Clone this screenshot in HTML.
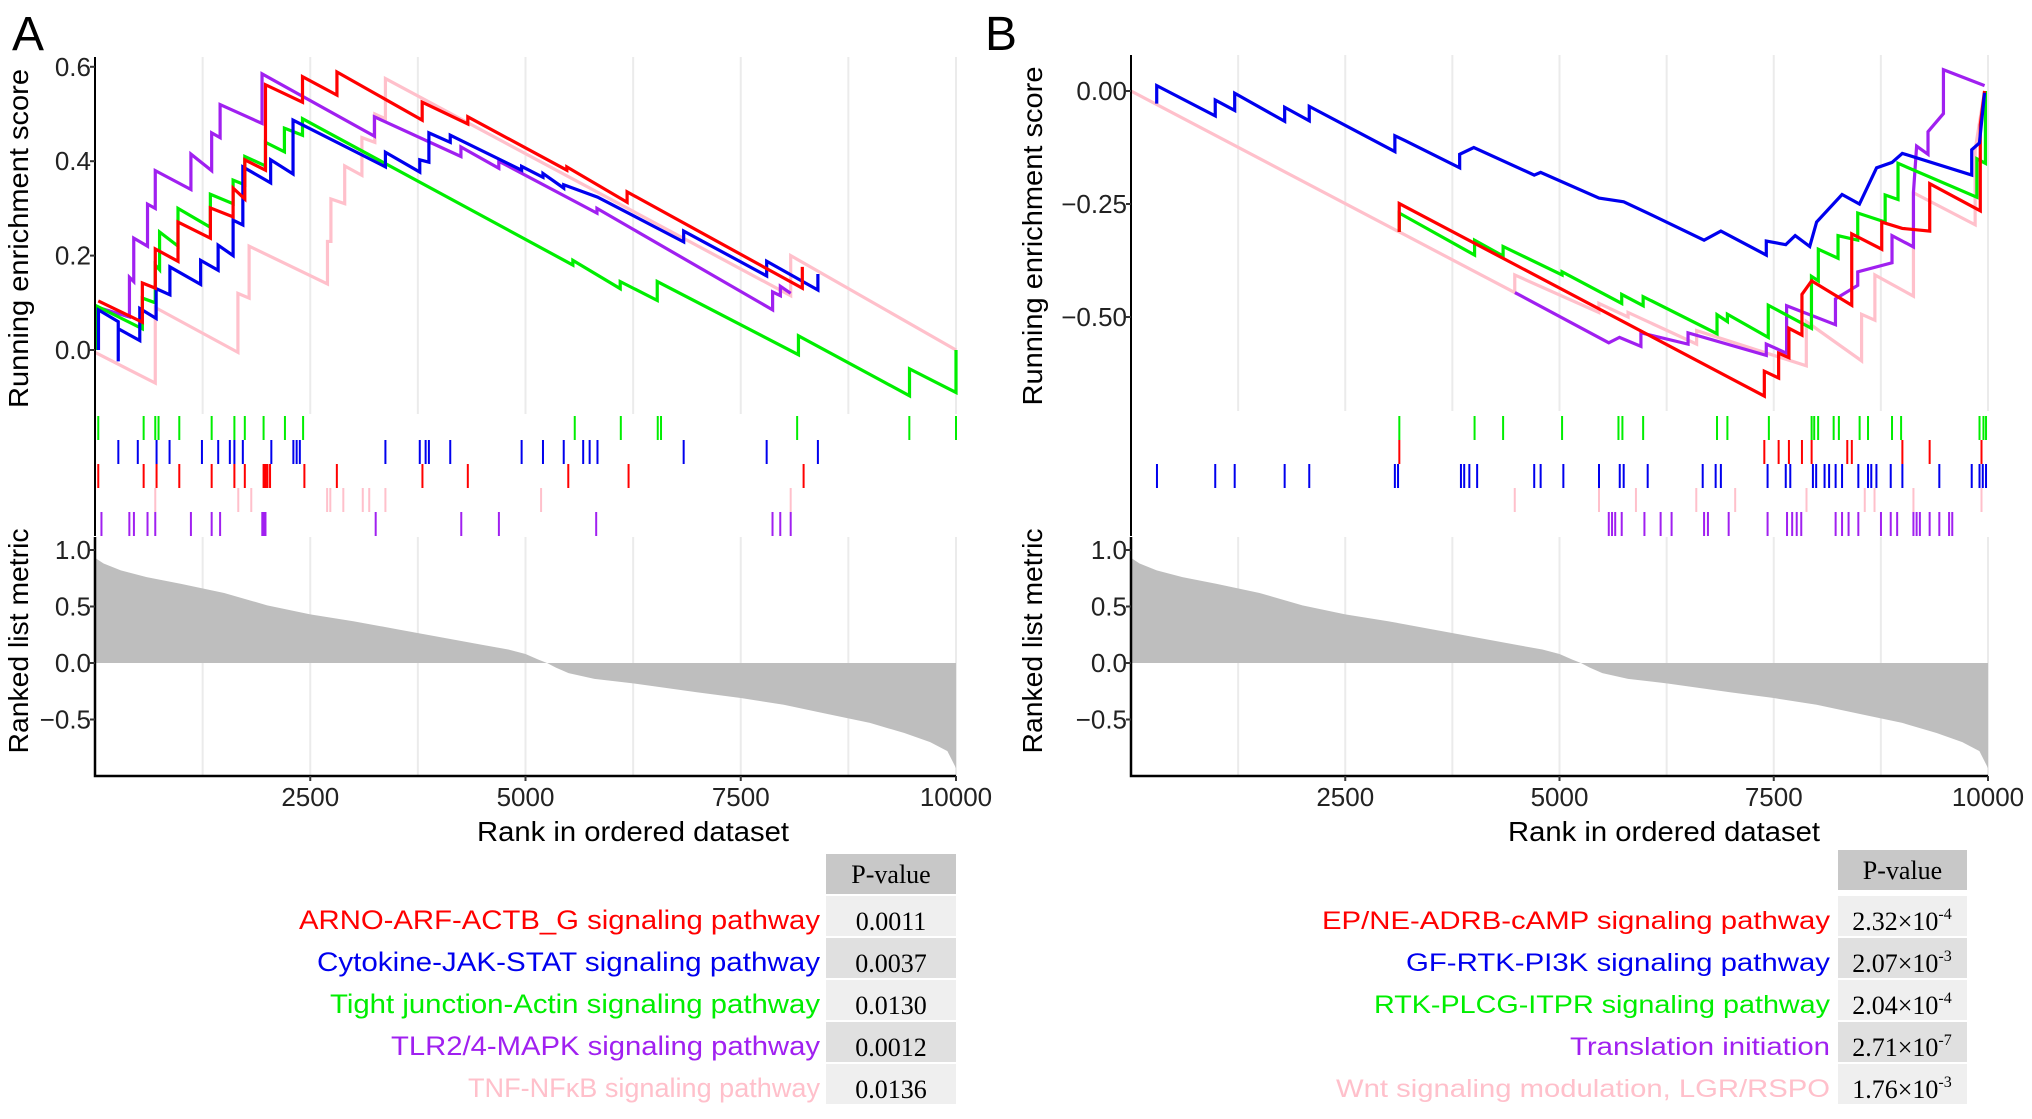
<!DOCTYPE html>
<html><head><meta charset="utf-8"><style>
html,body{margin:0;padding:0;background:#fff;}
svg{display:block;}
.tk{font-family:"Liberation Sans Narrow","Liberation Sans",sans-serif;font-size:26px;fill:#222;}
.ttl{font-family:"Liberation Sans",sans-serif;font-size:28px;fill:#000;}
.lab{font-family:"Liberation Sans Narrow","Liberation Sans",sans-serif;font-size:27px;}
.labB{font-family:"Liberation Sans",sans-serif;font-size:25px;}
.pv{font-family:"Liberation Serif",serif;font-size:26px;fill:#000;}
</style></head><body>
<svg id="fig" xmlns="http://www.w3.org/2000/svg" width="2032" height="1119" viewBox="0 0 2032 1119"></svg>
<script>
// ---------- data ----------
const xTicks = [2500, 5000, 7500, 10000];
const xTickLabels = ["2500", "5000", "7500", "10000"];
const esTicksA = [0, 0.2, 0.4, 0.6];
const esTickLabelsA = ["0.0", "0.2", "0.4", "0.6"];
const esTicksB = [0, -0.25, -0.5];
const esTickLabelsB = ["0.00", "\u22120.25", "\u22120.50"];
const metricTicks = [1, 0.5, 0, -0.5];
const metricTickLabels = ["1.0", "0.5", "0.0", "\u22120.5"];
const metricRanks = [0,100,300,600,1000,1500,2000,2500,3000,3500,4000,4500,4800,5000,5150,5250,5350,5500,5800,6250,7000,7500,8000,8500,9000,9400,9700,9900,10000];
const metricValues = [0.93,0.88,0.82,0.76,0.70,0.62,0.51,0.43,0.37,0.30,0.23,0.16,0.12,0.08,0.03,0.0,-0.04,-0.09,-0.14,-0.18,-0.26,-0.31,-0.37,-0.45,-0.53,-0.62,-0.70,-0.78,-0.93];

const aRed = [[38,0.104],[550,0.059],[550,0.142],[700,0.131],[700,0.214],[964,0.188],[964,0.271],[1340,0.237],[1340,0.301],[1604,0.282],[1604,0.343],[1740,0.32],[1740,0.403],[1980,0.381],[1980,0.562],[2410,0.525],[2410,0.579],[2810,0.54],[2810,0.589],[3800,0.487],[3800,0.525],[4330,0.479],[4330,0.494],[5480,0.381],[5480,0.388],[6180,0.313],[6180,0.335],[8215,0.131],[8215,0.176]];
const aBlue = [[40,0.0],[40,0.085],[270,0.06],[270,-0.024],[270,0.045],[520,0.02],[520,0.088],[710,0.067],[710,0.13],[870,0.117],[870,0.176],[1227,0.139],[1227,0.19],[1430,0.169],[1430,0.222],[1604,0.2],[1604,0.275],[1717,0.265],[1717,0.388],[2040,0.354],[2040,0.403],[2300,0.373],[2300,0.487],[3373,0.388],[3373,0.419],[3772,0.377],[3772,0.403],[3878,0.398],[3878,0.46],[4126,0.44],[4126,0.455],[4955,0.381],[4955,0.389],[5203,0.366],[5203,0.374],[5444,0.343],[5444,0.35],[5836,0.324],[6837,0.229],[6837,0.252],[7801,0.157],[7801,0.188],[8396,0.127],[8396,0.161]];
const aGreen = [[20,0.0],[20,0.093],[550,0.045],[550,0.11],[700,0.10],[700,0.18],[750,0.17],[750,0.25],[964,0.22],[964,0.30],[1340,0.26],[1340,0.33],[1604,0.31],[1604,0.36],[1740,0.35],[1740,0.41],[1980,0.39],[1980,0.44],[2200,0.42],[2200,0.47],[2410,0.455],[2410,0.49],[5550,0.18],[5550,0.19],[6100,0.13],[6100,0.145],[6530,0.105],[6530,0.145],[8170,-0.01],[8170,0.03],[9460,-0.097],[9460,-0.04],[10000,-0.09],[10000,0.0]];
const aPurple = [[40,0.0],[40,0.09],[400,0.07],[400,0.154],[450,0.145],[450,0.237],[610,0.22],[610,0.309],[700,0.30],[700,0.38],[1114,0.34],[1114,0.415],[1355,0.38],[1355,0.46],[1453,0.45],[1453,0.52],[1940,0.48],[1940,0.585],[3245,0.453],[3245,0.494],[4250,0.41],[4250,0.43],[4690,0.385],[4690,0.40],[5830,0.29],[5830,0.30],[7870,0.085],[7870,0.123],[7960,0.115],[7960,0.135],[8080,0.12]];
const aPink = [[0,-0.005],[700,-0.07],[700,0.09],[1660,-0.005],[1660,0.12],[1790,0.11],[1790,0.22],[2700,0.14],[2700,0.23],[2740,0.23],[2740,0.32],[2900,0.31],[2900,0.39],[3100,0.37],[3100,0.45],[3250,0.44],[3250,0.50],[3373,0.49],[3373,0.575],[8080,0.115],[8080,0.2],[10000,0.0]];

const bBlue = [[300,-0.028],[300,0.012],[983,-0.055],[983,-0.02],[1210,-0.043],[1210,-0.005],[1793,-0.067],[1793,-0.036],[2080,-0.066],[2080,-0.034],[3079,-0.134],[3079,-0.099],[3200,-0.11],[3835,-0.17],[3835,-0.14],[4000,-0.125],[4705,-0.186],[4780,-0.18],[5461,-0.237],[5749,-0.245],[6029,-0.27],[6687,-0.33],[6883,-0.31],[7413,-0.363],[7413,-0.332],[7640,-0.34],[7750,-0.32],[7920,-0.344],[8000,-0.29],[8297,-0.229],[8500,-0.25],[8700,-0.17],[8880,-0.158],[9000,-0.138],[9810,-0.186],[9810,-0.13],[9900,-0.115],[9960,-0.004]];
const bRed = [[3130,-0.312],[3130,-0.249],[7390,-0.675],[7390,-0.62],[7557,-0.635],[7557,-0.58],[7677,-0.59],[7677,-0.525],[7829,-0.54],[7829,-0.45],[7942,-0.42],[8410,-0.474],[8410,-0.316],[8760,-0.35],[8760,-0.29],[9000,-0.304],[9320,-0.31],[9320,-0.205],[9910,-0.265],[9910,-0.075],[9960,0.0]];
const bGreen = [[3130,-0.312],[3130,-0.27],[4009,-0.363],[4009,-0.33],[4342,-0.365],[4342,-0.344],[5030,-0.407],[5030,-0.4],[5726,-0.47],[5726,-0.45],[5976,-0.475],[5976,-0.455],[6838,-0.537],[6838,-0.495],[6959,-0.51],[6959,-0.494],[7436,-0.545],[7436,-0.474],[7940,-0.525],[7940,-0.41],[8020,-0.42],[8020,-0.35],[8250,-0.37],[8250,-0.32],[8480,-0.33],[8480,-0.27],[8800,-0.29],[8800,-0.23],[8950,-0.24],[8950,-0.16],[9870,-0.235],[9870,-0.15],[9970,-0.16],[9970,0.0]];
const bPurple = [[4480,-0.446],[5575,-0.557],[5700,-0.545],[5950,-0.565],[5950,-0.535],[6500,-0.56],[6500,-0.535],[7413,-0.585],[7413,-0.56],[7650,-0.58],[7650,-0.475],[8220,-0.517],[8220,-0.46],[8480,-0.43],[8480,-0.4],[8880,-0.38],[8880,-0.32],[9130,-0.345],[9130,-0.225],[9167,-0.122],[9300,-0.14],[9300,-0.09],[9480,-0.05],[9480,0.047],[9960,0.012]];
const bPink = [[0,0.0],[4478,-0.446],[4478,-0.407],[5460,-0.49],[5460,-0.47],[5800,-0.5],[5800,-0.49],[6600,-0.56],[6600,-0.53],[7880,-0.608],[7880,-0.51],[8525,-0.597],[8525,-0.494],[8680,-0.507],[8680,-0.407],[9130,-0.454],[9130,-0.225],[9850,-0.296],[9850,-0.13],[9960,0.0]];

const aGreenHits = [38,565,700,738,979,1355,1619,1740,1958,2206,2417,5572,6107,6536,6574,8155,9458,10000];
const aBlueHits = [271,497,715,866,1242,1431,1566,1619,1717,2048,2304,2342,2379,3373,3772,3840,3878,4126,4955,5203,5444,5670,5745,5836,6837,7801,8396];
const aRedHits = [38,565,715,979,1355,1619,1740,1958,1980,2003,2033,2432,2809,3803,4330,5497,6197,8230];
const aPinkHits = [700,1664,1815,2696,2733,2884,3110,3185,3373,5181,8080];
const aPurpleHits = [75,399,452,610,700,1114,1355,1453,1943,1958,1980,3260,4254,4691,5821,7869,7959,8080];

const bGreenHits = [3131,4009,4342,5030,5688,5734,5976,6838,6959,7443,7942,7972,8018,8199,8260,8502,8600,8880,8986,9901,9947,9977];
const bRedHits = [3131,7390,7557,7677,7829,7942,8358,8411,9001,9319,9924];
const bBlueHits = [303,983,1210,1793,2080,3079,3116,3850,3888,3948,4039,4705,4780,5045,5461,5703,5749,6029,6671,6822,6883,7428,7640,7693,7957,7995,8093,8146,8222,8297,8487,8600,8638,8698,8865,9001,9432,9810,9901,9939,9977];
const bPinkHits = [4478,5461,5892,6596,7050,7882,8562,8676,9130,9924];
const bPurpleHits = [5575,5613,5650,5726,5991,6180,6308,6687,6732,6974,7428,7655,7715,7768,7821,8222,8297,8373,8487,8751,8865,8940,9130,9167,9205,9319,9432,9546,9583];

const aLabels = ["ARNO-ARF-ACTB_G signaling pathway","Cytokine-JAK-STAT signaling pathway","Tight junction-Actin signaling pathway","TLR2/4-MAPK signaling pathway","TNF-NF\u03BAB signaling pathway"];
const aPvals = ["0.0011","0.0037","0.0130","0.0012","0.0136"];
const bLabels = ["EP/NE-ADRB-cAMP signaling pathway","GF-RTK-PI3K signaling pathway","RTK-PLCG-ITPR signaling pathway","Translation initiation","Wnt signaling modulation, LGR/RSPO"];
const bPvalMant = ["2.32","2.07","2.04","2.71","1.76"];
const bPvalExp = ["-4","-3","-4","-7","-3"];

// ---------- drawing ----------
const NS = "http://www.w3.org/2000/svg";
const svg = document.getElementById("fig");
const COL = {red:"#ff0000", blue:"#0000ee", green:"#00ee00", purple:"#a020f0", pink:"#ffc0cb"};
function mk(tag, attrs, parent) {
  const e = document.createElementNS(NS, tag);
  for (const k in attrs) e.setAttribute(k, attrs[k]);
  (parent || svg).appendChild(e);
  return e;
}
function panel(P, esTicks, esLabels, series, hits, rugOrder, name) {
  const g = mk("g", {});
  
  
  const X = r => P.x0 + (P.x1 - P.x0) * r / 10000;
  const YE = v => P.es0 - v * P.esScale;
  const YM = v => P.m0 - v * P.mScale;
  for (let r = 1250; r <= 10000; r += 1250) {
    const gl = mk("line", {x1:X(r), x2:X(r), y1:P.esTop, y2:P.esBot, stroke:"#ebebeb", "stroke-width":2}, g);
    
    
    const gm = mk("line", {x1:X(r), x2:X(r), y1:P.mTop, y2:P.mBot, stroke:"#ebebeb", "stroke-width":2}, g);
    
    
  }
  let d = "M" + X(metricRanks[0]) + "," + YM(0);
  for (let i = 0; i < metricRanks.length; i++) d += " L" + X(metricRanks[i]) + "," + YM(metricValues[i]);
  d += " L" + X(metricRanks[metricRanks.length - 1]) + "," + YM(0) + " Z";
  const area = mk("path", {d:d, fill:"#bebebe"}, g);
  
  
  for (const s of series) {
    const pts = s.data.map(p => X(p[0]) + "," + YE(p[1])).join(" ");
    const pl = mk("polyline", {points:pts, fill:"none", stroke:COL[s.c], "stroke-width":3.2, "stroke-linejoin":"miter"}, g);
    
    
  }
  rugOrder.forEach((c, i) => {
    const y1 = P.rugTop + i * P.rugH, y2 = y1 + P.rugH;
    for (const r of hits[c]) {
      const t = mk("line", {x1:X(r), x2:X(r), y1:y1, y2:y2, stroke:COL[c], "stroke-width":2}, g);
      
      
    }
  });
  const ax = mk("line", {x1:P.x0, x2:P.x0, y1:P.esTop, y2:P.rugTop + 5 * P.rugH, stroke:"#000", "stroke-width":2}, g);
  
  
  const ax2 = mk("path", {d:"M"+P.x0+","+P.mTop+" L"+P.x0+","+P.mBot+" L"+P.x1+","+P.mBot, fill:"none", stroke:"#000", "stroke-width":2.5}, g);
  
  
  esTicks.forEach((v, i) => {
    const tk = mk("line", {x1:P.x0 - 5, x2:P.x0, y1:YE(v), y2:YE(v), stroke:"#333", "stroke-width":2}, g);
    
    
    const tl = mk("text", {x:P.x0 - 4, y:YE(v) + 9, "text-anchor":"end", class:"tk"}, g);
    tl.textContent = esLabels[i];
    
    
  });
  metricTicks.forEach((v, i) => {
    const tk = mk("line", {x1:P.x0 - 5, x2:P.x0, y1:YM(v), y2:YM(v), stroke:"#333", "stroke-width":2}, g);
    
    
    const tl = mk("text", {x:P.x0 - 4, y:YM(v) + 9, "text-anchor":"end", class:"tk"}, g);
    tl.textContent = metricTickLabels[i];
    
    
  });
  xTicks.forEach((v, i) => {
    const tk = mk("line", {x1:X(v), x2:X(v), y1:P.mBot, y2:P.mBot + 5, stroke:"#333", "stroke-width":2}, g);
    
    
    const tl = mk("text", {x:X(v), y:P.mBot + 30, "text-anchor":"middle", class:"tk"}, g);
    tl.textContent = xTickLabels[i];
    
    
  });
  const t1 = mk("text", {x:0, y:0, class:"ttl", "text-anchor":"middle", transform:"translate(" + (P.x0 - P.titleOff) + "," + ((P.esTop + P.esBot) / 2 + 3) + ") rotate(-90)", textLength:339, lengthAdjust:"spacingAndGlyphs"}, g);
  t1.textContent = "Running enrichment score";
  
  
  const t2 = mk("text", {x:0, y:0, class:"ttl", "text-anchor":"middle", transform:"translate(" + (P.x0 - P.titleOff) + ",641) rotate(-90)", textLength:225, lengthAdjust:"spacingAndGlyphs"}, g);
  t2.textContent = "Ranked list metric";
  
  
  const t3 = mk("text", {x:P.xTitle, y:841, class:"ttl", "text-anchor":"middle", textLength:312, lengthAdjust:"spacingAndGlyphs", style:"font-family:'Liberation Sans Narrow','Liberation Sans',sans-serif"}, g);
  t3.textContent = "Rank in ordered dataset";
  
  
}

const PA = {x0:95, x1:956, esTop:57, esBot:414, es0:350, esScale:472, rugTop:416, rugH:24, mTop:537, mBot:776, m0:663, mScale:113, titleOff:67, xTitle:633};
const PB = {x0:1131, x1:1988, esTop:55, esBot:411, es0:91, esScale:452, rugTop:416, rugH:24, mTop:537, mBot:776, m0:663, mScale:113, titleOff:89, xTitle:1664};

panel(PA, esTicksA, esTickLabelsA,
  [{c:"pink",data:aPink},{c:"purple",data:aPurple},{c:"green",data:aGreen},{c:"blue",data:aBlue},{c:"red",data:aRed}],
  {green:aGreenHits, blue:aBlueHits, red:aRedHits, pink:aPinkHits, purple:aPurpleHits},
  ["green","blue","red","pink","purple"], "panel-a");
panel(PB, esTicksB, esTickLabelsB,
  [{c:"pink",data:bPink},{c:"purple",data:bPurple},{c:"green",data:bGreen},{c:"red",data:bRed},{c:"blue",data:bBlue}],
  {green:bGreenHits, red:bRedHits, blue:bBlueHits, pink:bPinkHits, purple:bPurpleHits},
  ["green","red","blue","pink","purple"], "panel-b");

const la = mk("text", {x:12, y:50, style:"font-family:'Liberation Sans Narrow','Liberation Sans',sans-serif;font-size:48px", textLength:32, lengthAdjust:"spacingAndGlyphs"});
la.textContent = "A";


const lb = mk("text", {x:985, y:50, style:"font-family:'Liberation Sans Narrow','Liberation Sans',sans-serif;font-size:48px", textLength:32, lengthAdjust:"spacingAndGlyphs"});
lb.textContent = "B";



const rowCols = ["red","blue","green","purple","pink"];
const rowFills = ["#efefef","#e0e0e0","#efefef","#e0e0e0","#efefef"];
function table(bx, bw, hy, rowTop, rowStep, labelRight, labels, cls, widths, name) {
  const g = mk("g", {});
  
  
  const h = mk("rect", {x:bx, y:hy, width:bw, height:40, fill:"#c8c8c8"}, g);
  
  
  const ht = mk("text", {x:bx + bw / 2, y:hy + 29, "text-anchor":"middle", class:"pv"}, g);
  ht.textContent = "P-value";
  
  
  labels.forEach((l, i) => {
    const y = rowTop + i * rowStep;
    const r = mk("rect", {x:bx, y:y, width:bw, height:rowStep - 2, fill:rowFills[i]}, g);
    
    
    const t = mk("text", {x:labelRight, y:y + 33, "text-anchor":"end", class:cls, fill:COL[rowCols[i]], textLength:widths[i], lengthAdjust:"spacingAndGlyphs"}, g);
    t.textContent = l;
    
    
  });
  return g;
}
const gA = table(826, 130, 854, 896, 42, 820, aLabels, "lab", [521, 503, 490, 429, 352], "table-a");
aPvals.forEach((p, i) => {
  const t = mk("text", {x:891, y:896 + i * 42 + 34, "text-anchor":"middle", class:"pv"}, gA);
  t.textContent = p;
  
  
});
const gB = table(1838, 129, 850, 896, 42, 1830, bLabels, "labB", [508, 424, 456, 260, 494], "table-b");
bPvalMant.forEach((m, i) => {
  const t = mk("text", {x:1902, y:896 + i * 42 + 34, "text-anchor":"middle", class:"pv"}, gB);
  
  
  const a = mk("tspan", {}, t);
  a.textContent = m + "\u00D710";
  const s = mk("tspan", {dy:-11, style:"font-size:16px"}, t);
  s.textContent = bPvalExp[i];
});
</script>
</body></html>
